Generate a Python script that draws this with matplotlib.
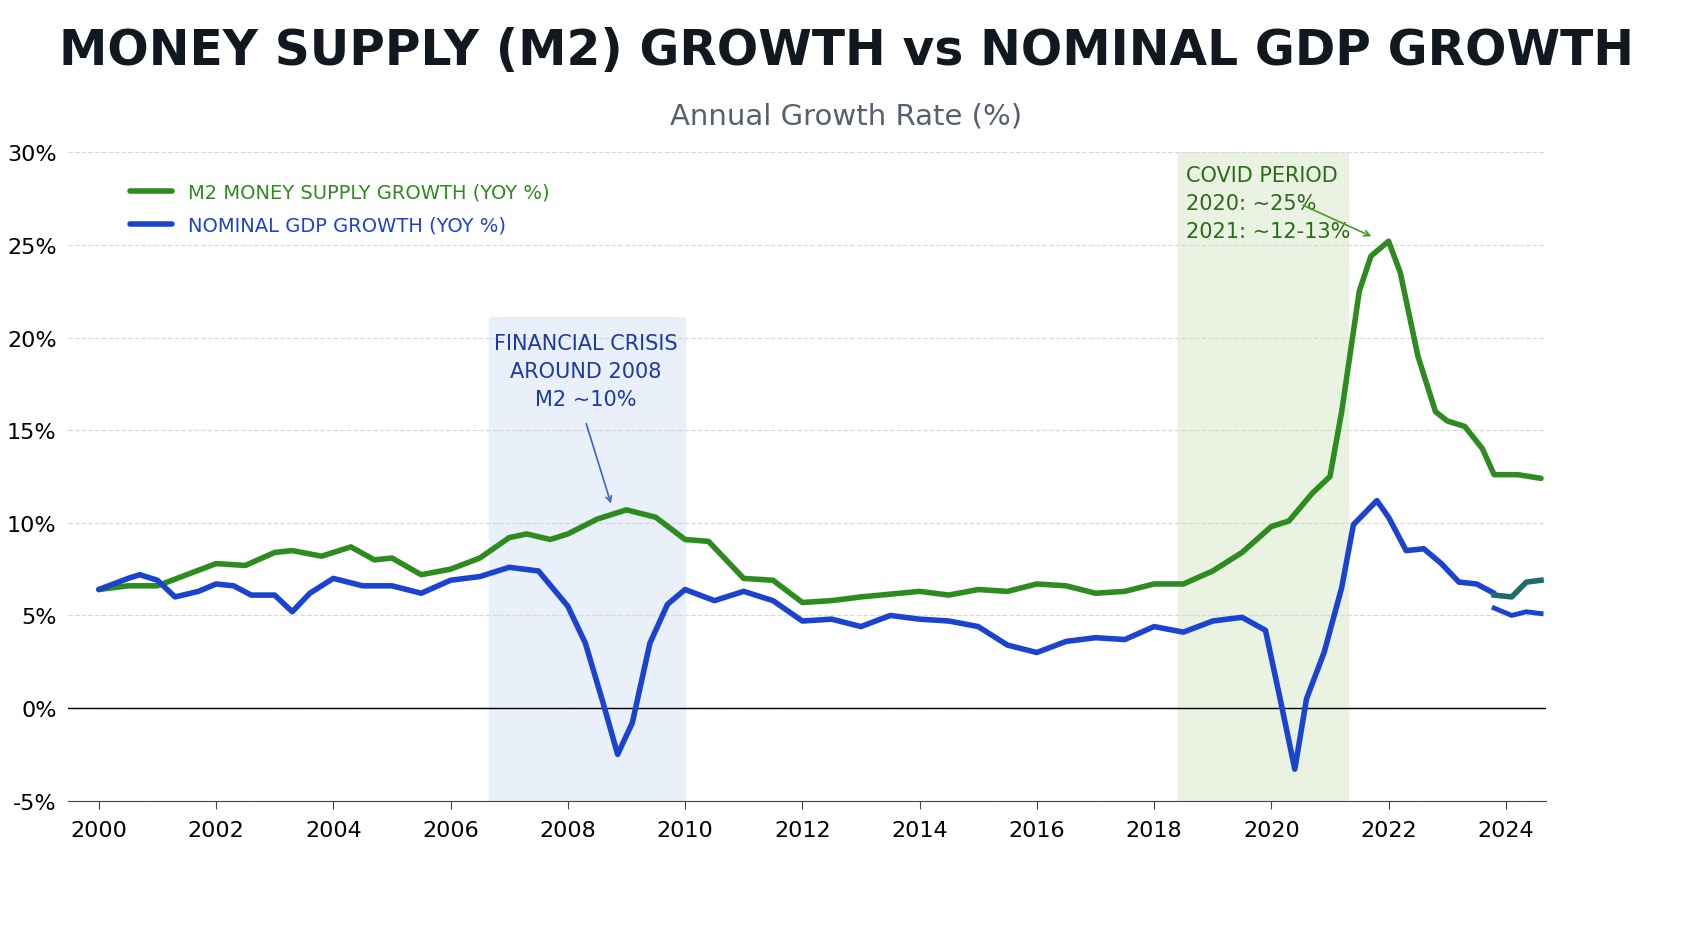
import matplotlib.pyplot as plt
import matplotlib.ticker as mticker

plt.rcParams['font.family'] = ['Liberation Sans Narrow', 'DejaVu Sans']

# M2 money supply growth, YoY %
m2_year = [2000, 2000.5, 2001, 2001.5, 2002, 2002.5, 2003, 2003.3, 2003.8, 2004.3, 2004.7,
           2005, 2005.5, 2006, 2006.5, 2007, 2007.3, 2007.7, 2008, 2008.5, 2009, 2009.5,
           2010, 2010.4, 2011, 2011.5, 2012, 2012.5, 2013, 2014, 2014.5, 2015, 2015.5,
           2016, 2016.5, 2017, 2017.5, 2018, 2018.5, 2019, 2019.5, 2020, 2020.3, 2020.7,
           2021, 2021.2, 2021.5, 2021.7, 2022, 2022.2, 2022.5, 2022.8, 2023, 2023.3,
           2023.6, 2023.8, 2024.2, 2024.6]
m2_value = [6.4, 6.6, 6.6, 7.2, 7.8, 7.7, 8.4, 8.5, 8.2, 8.7, 8.0,
            8.1, 7.2, 7.5, 8.1, 9.2, 9.4, 9.1, 9.4, 10.2, 10.7, 10.3,
            9.1, 9.0, 7.0, 6.9, 5.7, 5.8, 6.0, 6.3, 6.1, 6.4, 6.3,
            6.7, 6.6, 6.2, 6.3, 6.7, 6.7, 7.4, 8.4, 9.8, 10.1, 11.6,
            12.5, 16.0, 22.5, 24.4, 25.2, 23.5, 19.0, 16.0, 15.5, 15.2,
            14.0, 12.6, 12.6, 12.4]

# Nominal GDP growth, YoY %
gdp_year = [2000, 2000.5, 2000.7, 2001, 2001.3, 2001.7, 2002, 2002.3, 2002.6, 2003, 2003.3,
            2003.6, 2004, 2004.5, 2005, 2005.5, 2006, 2006.5, 2007, 2007.5, 2008, 2008.3,
            2008.6, 2008.85, 2009.1, 2009.4, 2009.7, 2010, 2010.5, 2011, 2011.5, 2012,
            2012.5, 2013, 2013.5, 2014, 2014.5, 2015, 2015.5, 2016, 2016.5, 2017, 2017.5,
            2018, 2018.5, 2019, 2019.5, 2019.9, 2020.15, 2020.4, 2020.6, 2020.9, 2021.2,
            2021.4, 2021.8, 2022, 2022.3, 2022.6, 2022.9, 2023.2, 2023.5, 2023.8]
gdp_value = [6.4, 7.0, 7.2, 6.9, 6.0, 6.3, 6.7, 6.6, 6.1, 6.1, 5.2,
             6.2, 7.0, 6.6, 6.6, 6.2, 6.9, 7.1, 7.6, 7.4, 5.5, 3.5,
             0.3, -2.5, -0.8, 3.5, 5.6, 6.4, 5.8, 6.3, 5.8, 4.7,
             4.8, 4.4, 5.0, 4.8, 4.7, 4.4, 3.4, 3.0, 3.6, 3.8, 3.7,
             4.4, 4.1, 4.7, 4.9, 4.2, 0.5, -3.3, 0.5, 3.0, 6.5,
             9.9, 11.2, 10.3, 8.5, 8.6, 7.8, 6.8, 6.7, 6.2]
gdp_tail_year = [2023.8, 2024.1, 2024.35, 2024.6]
gdp_tail_value = [5.4, 5.0, 5.2, 5.1]
mix_tail_year = [2023.8, 2024.1, 2024.35, 2024.6]
mix_tail_value = [6.1, 6.0, 6.8, 6.9]

GREEN = '#2e8b1f'
BLUE = '#1a44d0'

fig = plt.figure(figsize=(16.93, 9.29), dpi=100)
ax = fig.add_axes([0.040, 0.137, 0.873, 0.698])

ax.axvspan(2006.65, 2010.0, ymin=0, ymax=26.1 / 35, color='#e9f0f9', zorder=0)
ax.axvspan(2018.4, 2021.3, color='#eaf2e2', zorder=0)

ax.plot(m2_year, m2_value, color=GREEN, lw=4, solid_capstyle='round',
        solid_joinstyle='round', label='M2 MONEY SUPPLY GROWTH (YOY %)', zorder=3)
ax.plot(gdp_year, gdp_value, color=BLUE, lw=4, solid_capstyle='round',
        solid_joinstyle='round', label='NOMINAL GDP GROWTH (YOY %)', zorder=3)
ax.plot(gdp_tail_year, gdp_tail_value, color=BLUE, lw=3.5, zorder=3)
ax.plot(mix_tail_year, mix_tail_value, color='#1f6a6a', lw=4, zorder=3)

ax.axhline(0, color='black', lw=1, zorder=2)
ax.set_xlim(1999.47, 2024.68)
ax.set_ylim(-5, 30)
ax.set_xticks(range(2000, 2025, 2))
ax.set_yticks(range(-5, 31, 5))
ax.yaxis.set_major_formatter(mticker.FuncFormatter(lambda v, p: f'{v:.0f}%'))
ax.grid(axis='y', ls='--', color='#d8d8d8', lw=0.9)
for s in ['top', 'right', 'left']:
    ax.spines[s].set_visible(False)
ax.spines['bottom'].set_color('#444444')
ax.tick_params(axis='both', labelsize=16, length=0, pad=8)
ax.tick_params(axis='x', length=6, color='#444444')

leg = ax.legend(loc='upper left', bbox_to_anchor=(0.03, 0.98), frameon=False,
                fontsize=14, handlelength=2.2, labelspacing=0.7)
leg.get_texts()[0].set_color(GREEN)
leg.get_texts()[1].set_color(BLUE)

ax.text(2008.3, 18.2, 'FINANCIAL CRISIS\nAROUND 2008\nM2 ~10%', color='#1a3aa8',
        fontsize=15, ha='center', va='center', linespacing=1.5)
ax.annotate('', xy=(2008.75, 10.9), xytext=(2008.3, 15.5),
            arrowprops=dict(arrowstyle='->', color='#3a66c8', lw=1.2))
ax.text(2018.55, 29.3, 'COVID PERIOD\n2020: ~25%\n2021: ~12-13%', color='#2a6a18',
        fontsize=15, ha='left', va='top', linespacing=1.5)
ax.annotate('', xy=(2021.75, 25.4), xytext=(2020.5, 27.2),
            arrowprops=dict(arrowstyle='->', color='#4a9a2a', lw=1.2))

fig.text(0.5, 0.945, 'MONEY SUPPLY (M2) GROWTH vs NOMINAL GDP GROWTH', ha='center',
         va='center', fontsize=35, fontweight='bold', color='#111820')
fig.text(0.5, 0.875, 'Annual Growth Rate (%)', ha='center', va='center',
         fontsize=21, color='#556070')

fig.savefig('out.png', dpi=100)
